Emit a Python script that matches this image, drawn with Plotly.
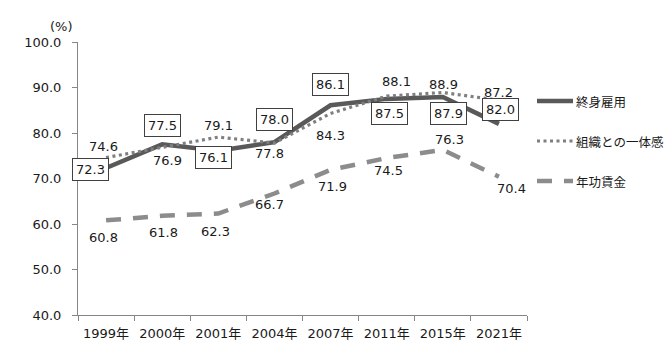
import plotly.graph_objects as go

years = ["1999年", "2000年", "2001年", "2004年", "2007年", "2011年", "2015年", "2021年"]
lifetime = [72.3, 77.5, 76.1, 78.0, 86.1, 87.5, 87.9, 82.0]
unity = [74.6, 76.9, 79.1, 77.8, 84.3, 88.1, 88.9, 87.2]
seniority = [60.8, 61.8, 62.3, 66.7, 71.9, 74.5, 76.3, 70.4]
names = ["終身雇用", "組織との一体感", "年功賃金"]

# label offsets in px (dx, dy with dy positive = down)
off_lifetime = [(-16, 1), (0, -19), (-5, 7), (0, -23), (0, -21), (3, 15), (6, 16), (2, -14)]
off_unity = [(-3, -11), (5, 13), (0, -12), (-5, 10), (0, 22), (10, -15), (1, -8), (0, -8)]
off_senior = [(-3, 17), (1, 17), (-3, 17.5), (-5, 11), (2, 17), (2, 12.5), (7, -10), (13, 12)]

FONT = "DejaVu Sans, Noto Sans CJK JP"
TXT = "#1a1a1a"
AX = "#868686"
W, H = 670, 353
ML, MR, MT, MB = 78, 143, 42, 38
PW, PH = W - ML - MR, H - MT - MB

styles = [dict(color="#595959", width=4.5, dash="solid"),
          dict(color="#7f7f7f", width=3.2, dash="3px,3.5px"),
          dict(color="#8c8c8c", width=4.5, dash="15px,12px")]

fig = go.Figure()
for nm, vals, st in zip(names, [lifetime, unity, seniority], styles):
    fig.add_trace(go.Scatter(x=years, y=vals, name=nm, mode="lines", line=st,
                             showlegend=False))

ann = []
for x, v, (dx, dy) in zip(years, lifetime, off_lifetime):
    ann.append(dict(x=x, y=v, text=f"{v:.1f}", showarrow=False, xshift=dx, yshift=-dy,
                    font=dict(family=FONT, size=13, color=TXT), bgcolor="white",
                    bordercolor="#404040", borderwidth=1, borderpad=3))
for x, v, (dx, dy) in zip(years, unity, off_unity):
    ann.append(dict(x=x, y=v, text=f"{v:.1f}", showarrow=False, xshift=dx, yshift=-dy,
                    font=dict(family=FONT, size=13, color=TXT)))
for x, v, (dx, dy) in zip(years, seniority, off_senior):
    ann.append(dict(x=x, y=v, text=f"{v:.1f}", showarrow=False, xshift=dx, yshift=-dy,
                    font=dict(family=FONT, size=13, color=TXT)))
ann.append(dict(xref="paper", yref="paper", x=-0.03, y=1.0, yshift=16, xshift=-3, text="(%)",
                showarrow=False, xanchor="center", yanchor="middle",
                font=dict(family=FONT, size=13, color=TXT)))

# manual legend (pixel positions converted to paper coords)
def px(xp):
    return (xp - ML) / PW
def py(yp):
    return (H - MB - yp) / PH

shapes = []
for i, (nm, st) in enumerate(zip(names, styles)):
    yy = 101 + 40 * i
    shapes.append(dict(type="line", xref="paper", yref="paper",
                       x0=px(537), x1=px(573), y0=py(yy), y1=py(yy), line=st))
    ann.append(dict(xref="paper", yref="paper", x=px(574), y=py(yy), text=nm,
                    showarrow=False, xanchor="left", yanchor="middle",
                    font=dict(family="Noto Sans CJK JP", size=12.5, color=TXT)))

fig.update_layout(
    width=W, height=H,
    margin=dict(l=ML, r=MR, t=MT, b=MB),
    paper_bgcolor="white", plot_bgcolor="white",
    showlegend=False,
    annotations=ann, shapes=shapes,
    xaxis=dict(type="category", range=[-0.5, 7.5], showgrid=False, showline=True,
               linecolor=AX, linewidth=1, ticks="outside", tickson="boundaries",
               ticklen=5, tickcolor=AX, ticklabelstandoff=6, tickangle=0,
               tickfont=dict(family=FONT, size=13, color=TXT)),
    yaxis=dict(range=[40, 100], dtick=10, tickformat=".1f", showgrid=False,
               showline=True, linecolor=AX, linewidth=1, ticks="outside", ticklen=5,
               tickcolor=AX, zeroline=False, ticklabelstandoff=8,
               tickfont=dict(family=FONT, size=13, color=TXT)),
)
fig.write_html("out.html")
